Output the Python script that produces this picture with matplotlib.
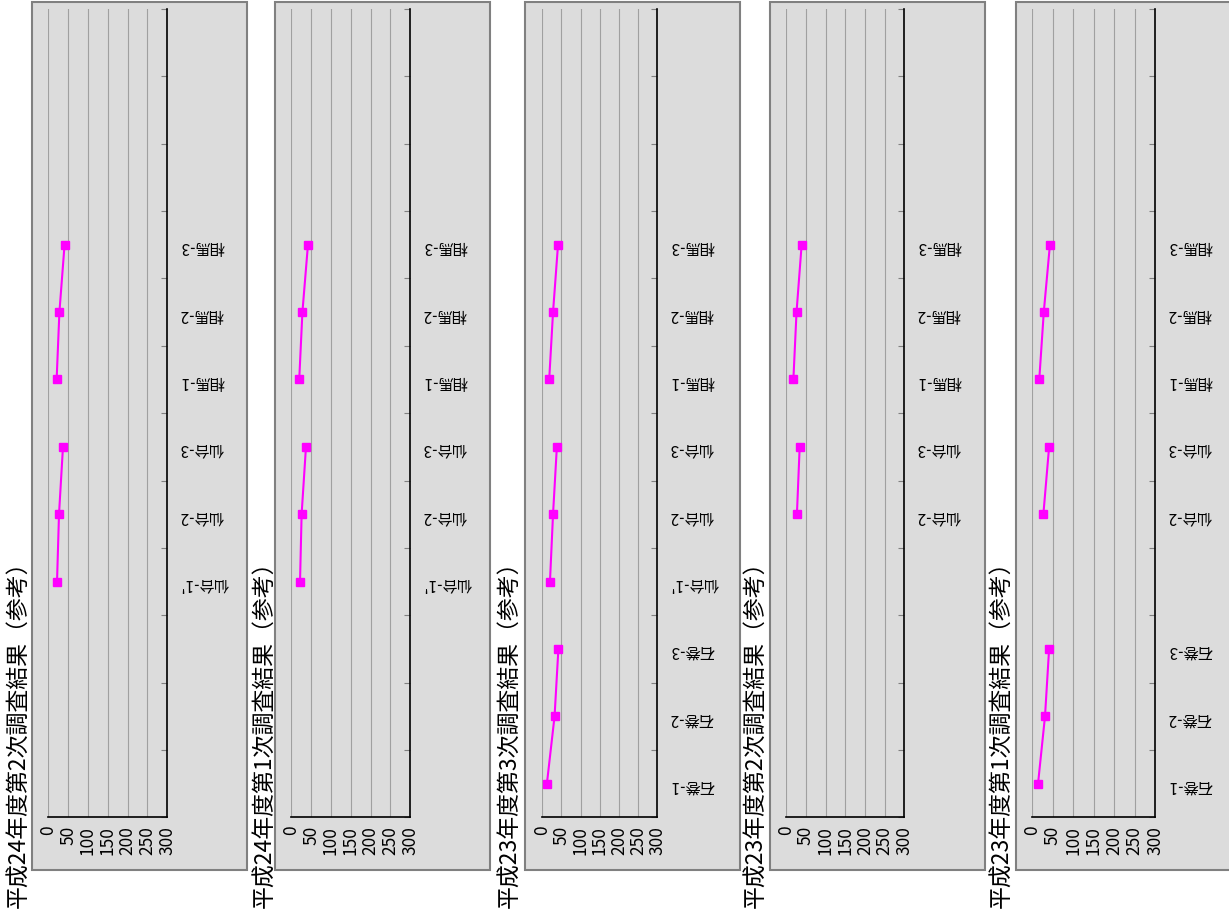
import numpy as np
import matplotlib
matplotlib.use("Agg")
import matplotlib.pyplot as plt
from matplotlib.patches import Rectangle

plt.rcParams['font.family'] = ['Noto Sans CJK JP', 'DejaVu Sans']

# categories (bottom to top), 12 slots, last 3 empty
cats = ['石巻-1', '石巻-2', '石巻-3', "仙台-1'", '仙台-2', '仙台-3',
        '相馬-1', '相馬-2', '相馬-3', '', '', '']

titles = ['平成24年度第2次調査結果（参考）',
          '平成24年度第1次調査結果（参考）',
          '平成23年度第3次調査結果（参考）',
          '平成23年度第2次調査結果（参考）',
          '平成23年度第1次調査結果（参考）']

# which category labels are shown in each panel
shown = [
    [0, 0, 0, 1, 1, 1, 1, 1, 1],
    [0, 0, 0, 1, 1, 1, 1, 1, 1],
    [1, 1, 1, 1, 1, 1, 1, 1, 1],
    [0, 0, 0, 0, 1, 1, 1, 1, 1],
    [1, 1, 1, 0, 1, 1, 1, 1, 1],
]

# values per panel: 石巻 1-3, 仙台 1'-3, 相馬 1-3 (nan = no data)
nan = np.nan
ishinomaki = [[nan, nan, nan], [nan, nan, nan], [12, 32, 42], [nan, nan, nan], [14, 31, 41]]
sendai = [[22, 27, 37], [22, 26, 37], [20, 28, 38], [nan, 27, 34], [nan, 27, 41]]
soma = [[21, 28, 41], [20, 28, 42], [18, 28, 41], [18, 26, 39], [17, 28, 43]]

W, H = 1229, 921
fig = plt.figure(figsize=(W / 100, H / 100), dpi=100)

box_x = [(31.6, 246.7), (275, 490), (525, 740), (769.5, 984.7), (1015.6, 1240)]
ax_x = [(48.3, 167.3), (291.3, 410.3), (542.3, 657.3), (786.3, 904.3), (1032.3, 1155.3)]
title_x = [19, 265, 510, 756, 1002]
box_top, box_bot = 2, 870
ax_top, ax_bot = 9, 817.3
bg = '#dcdcdc'


def fx(px):
    return px / W


def fy(py):
    return 1 - py / H


for i in range(5):
    bx0, bx1 = box_x[i]
    fig.patches.append(Rectangle((fx(bx0), fy(box_bot)), fx(bx1 - bx0), (box_bot - box_top) / H,
                                 transform=fig.transFigure, facecolor=bg,
                                 edgecolor='#808080', lw=1.5, zorder=-5))
    x0, x1 = ax_x[i]
    ax = fig.add_axes([fx(x0), fy(ax_bot), fx(x1 - x0), (ax_bot - ax_top) / H])
    ax.set_facecolor('none')
    ax.set_xlim(0, 300)
    ax.set_ylim(0, 12)

    # series, one line per area
    groups = [ishinomaki[i], sendai[i], soma[i]]
    for g, vals in enumerate(groups):
        yy = np.arange(3) + 3 * g + 0.5
        ax.plot(vals, yy, color='#ff00ff', lw=1.5, marker='s', ms=6,
                markeredgecolor='#ff00ff', clip_on=False, zorder=3)

    ax.set_xticks(np.arange(0, 301, 50))
    ax.set_xticklabels([str(v) for v in range(0, 301, 50)], rotation=90, fontsize=12.5)
    ax.tick_params(axis='x', length=0, pad=6)
    for v in range(0, 300, 50):
        ax.axvline(v, color='#a0a0a0', lw=0.8, zorder=0)

    ax.yaxis.tick_right()
    ax.set_yticks(np.arange(0, 13))
    ax.set_yticklabels([])
    ax.tick_params(axis='y', which='major', direction='in', length=4, color='#808080')
    labs = [c if (k < 9 and shown[i][k]) else '' for k, c in enumerate(cats)]
    ax.set_yticks(np.arange(12) + 0.5, minor=True)
    ax.set_yticklabels(labs, minor=True, rotation=180, fontsize=11)
    ax.tick_params(axis='y', which='minor', length=0, pad=9)

    for s in ['left', 'top']:
        ax.spines[s].set_visible(False)
    for s in ['right', 'bottom']:
        ax.spines[s].set_color('black')
        ax.spines[s].set_linewidth(1.2)

    fig.text(fx(title_x[i]), fy(908), titles[i], rotation=90, ha='center', va='bottom',
             fontsize=16.5)

fig.savefig('out.png', dpi=100)
